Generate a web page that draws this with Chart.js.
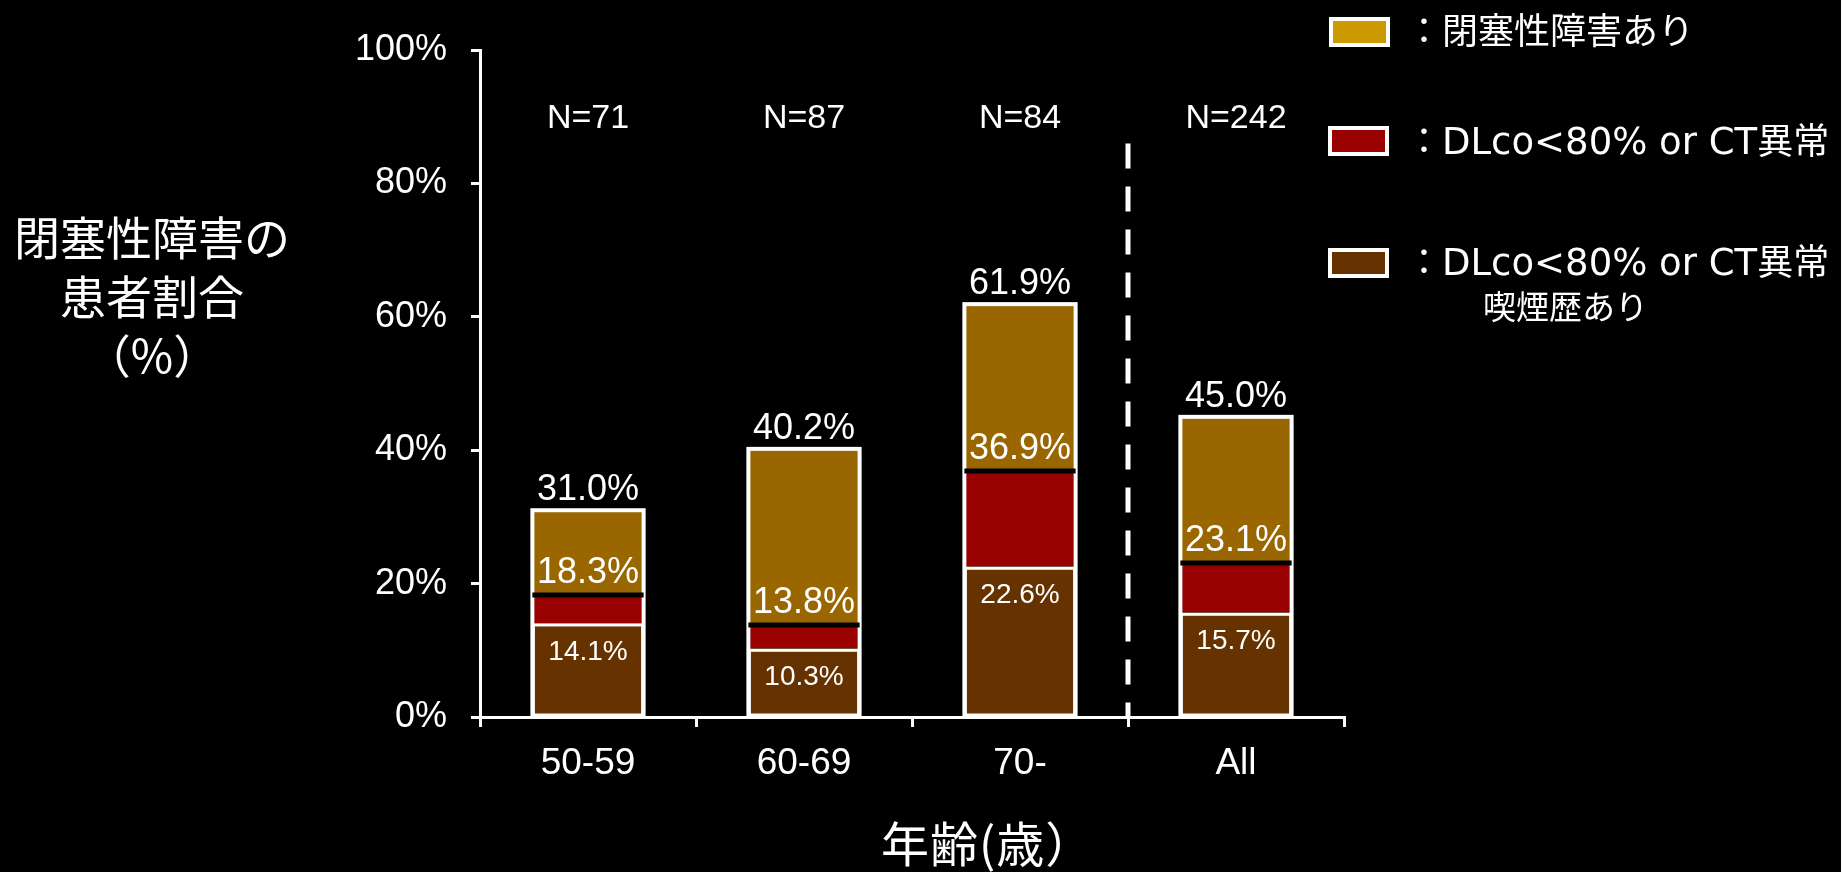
<!DOCTYPE html>
<html lang="ja">
<head>
<meta charset="utf-8">
<title>年齢別 閉塞性障害の患者割合</title>
<script src="https://cdn.jsdelivr.net/npm/chart.js@4.4.1/dist/chart.umd.min.js"></script>
<style>
  html, body { margin: 0; padding: 0; background: #000; overflow: hidden; }
  #wrap { position: relative; width: 1841px; height: 872px; }
  #myChart { position: absolute; left: 0; top: 0; }
  .jp { position: absolute; color: #fff; font-family: "Noto Sans CJK JP", "Noto Sans", sans-serif; white-space: nowrap; }
  #ytitle { left: 0; width: 304px; top: 206px; font-size: 46px; line-height: 59px; text-align: center; }
  #xtitle { left: 881px; top: 813px; font-size: 48px; line-height: 56px; letter-spacing: 1px; }
  .box { position: absolute; width: 53px; height: 22px; border: 4px solid #fff; }
  .leg { font-size: 37px; line-height: 44px; font-family: "DejaVu Sans", "Noto Sans CJK JP", sans-serif; }
  .leg .k { font-family: "Noto Sans CJK JP", sans-serif; font-size: 36px; }
</style>
</head>
<body>
<div id="wrap">
  <canvas id="myChart" width="1841" height="872"></canvas>

  <div id="ytitle" class="jp">閉塞性障害の<br>患者割合<br>（%）</div>
  <div id="xtitle" class="jp">年齢(歳）</div>

  <div class="box" style="left:1329px; top:17px; background:#cc9900"></div>
  <div class="jp leg" style="left:1406px; top:6px"><span class="k">：閉塞性障害あり</span></div>

  <div class="box" style="left:1328px; top:126px; background:#990000"></div>
  <div class="jp leg" style="left:1406px; top:116px"><span class="k">：</span>DLco&lt;80% or CT<span class="k">異常</span></div>

  <div class="box" style="left:1328px; top:248px; background:#663300"></div>
  <div class="jp leg" style="left:1406px; top:237px"><span class="k">：</span>DLco&lt;80% or CT<span class="k">異常</span></div>
  <div class="jp" style="left:1483px; top:285px; font-size:33px; line-height:40px">喫煙歴あり</div>
</div>

<script>
// age groups and sample sizes
var ageGroups = ['50-59', '60-69', '70-', 'All']
var nLabels = ['N=71', 'N=87', 'N=84', 'N=242']

// cumulative percentages as printed on the bars
var smokerPct = [14.1, 10.3, 22.6, 15.7]        // DLco<80% or CT異常 + 喫煙歴あり
var dlcoCtPct = [18.3, 13.8, 36.9, 23.1]        // DLco<80% or CT異常
var obstructivePct = [31.0, 40.2, 61.9, 45.0]   // 閉塞性障害あり (total)

var yTicks = [0, 20, 40, 60, 80, 100]

// stacked segments
var redPart = dlcoCtPct.map((v, i) => +(v - smokerPct[i]).toFixed(1))
var goldPart = obstructivePct.map((v, i) => +(v - dlcoCtPct[i]).toFixed(1))

var labelFont = '"Liberation Sans", Arial, sans-serif'

function fmt(v) {
    return v.toFixed(1) + '%'
}

const overlay = {
    id: 'overlay',
    afterDatasetsDraw(chart) {
        const ctx = chart.ctx
        const xs = chart.scales.x
        const ys = chart.scales.y
        const brown = chart.getDatasetMeta(0).data
        const red = chart.getDatasetMeta(1).data
        const gold = chart.getDatasetMeta(2).data

        ctx.save()
        ctx.textAlign = 'center'
        ctx.textBaseline = 'middle'

        brown.forEach((b, i) => {
            const r = red[i]
            const g = gold[i]
            const left = b.x - b.width / 2
            const w = b.width

            // white outline round the whole stack
            ctx.strokeStyle = '#fff'
            ctx.lineWidth = 4
            ctx.strokeRect(left, g.y, w, b.base - g.y)

            // white outline round the bottom segment
            ctx.lineWidth = 3
            ctx.strokeRect(left + 1, b.y + 2, w - 2, b.base - b.y - 2)

            // black rule on top of the red segment
            ctx.strokeStyle = '#000'
            ctx.lineWidth = 5
            ctx.beginPath()
            ctx.moveTo(left, r.y)
            ctx.lineTo(left + w, r.y)
            ctx.stroke()

            ctx.fillStyle = '#fff'
            ctx.font = '36px ' + labelFont
            ctx.fillText(fmt(obstructivePct[i]), b.x, g.y - 20)
            ctx.fillText(fmt(dlcoCtPct[i]), b.x, r.y - 22)
            ctx.font = '28px ' + labelFont
            ctx.fillText(fmt(smokerPct[i]), b.x, b.y + 29)
        })

        // N counts above each group
        ctx.font = '34px ' + labelFont
        ctx.fillStyle = '#fff'
        nLabels.forEach((t, i) => {
            ctx.fillText(t, xs.getPixelForValue(i), ys.getPixelForValue(89.7))
        })

        // dashed divider before the "All" column
        const dx = (xs.getPixelForValue(2) + xs.getPixelForValue(3)) / 2
        ctx.strokeStyle = '#fff'
        ctx.lineWidth = 5
        ctx.setLineDash([25, 18])
        ctx.beginPath()
        ctx.moveTo(dx, ys.getPixelForValue(86))
        ctx.lineTo(dx, ys.bottom)
        ctx.stroke()
        ctx.restore()
    }
}

Chart.defaults.color = '#fff'
Chart.defaults.font.family = labelFont

const ctx = document.getElementById('myChart')
const myChart = new Chart(ctx, {
    type: 'bar',
    data: {
        labels: ageGroups,
        datasets: [{
            label: 'DLco<80% or CT異常 喫煙歴あり',
            data: smokerPct,
            backgroundColor: '#663300',
            borderWidth: 0
        }, {
            label: 'DLco<80% or CT異常',
            data: redPart,
            backgroundColor: '#990000',
            borderWidth: 0
        }, {
            label: '閉塞性障害あり',
            data: goldPart,
            backgroundColor: '#996600',
            borderWidth: 0
        }]
    },
    options: {
        responsive: false,
        animation: false,
        devicePixelRatio: 1,
        categoryPercentage: 1,
        barPercentage: 0.515,
        layout: {
            padding: { left: 0, right: 497, top: 50, bottom: 0 }
        },
        plugins: {
            legend: { display: false },
            tooltip: { enabled: false }
        },
        scales: {
            x: {
                stacked: true,
                afterFit: (s) => { s.height = 155 },
                grid: {
                    offset: true,
                    drawOnChartArea: false,
                    drawTicks: true,
                    tickLength: 10,
                    color: '#fff',
                    lineWidth: 3
                },
                border: { color: '#fff', width: 3 },
                ticks: {
                    color: '#fff',
                    padding: 15,
                    font: { size: 37 }
                }
            },
            y: {
                stacked: true,
                min: 0,
                max: 100,
                afterFit: (s) => { s.width = 480 },
                afterBuildTicks: (s) => { s.ticks = yTicks.map(v => ({ value: v })) },
                grid: {
                    drawOnChartArea: false,
                    drawTicks: true,
                    tickLength: 9,
                    color: '#fff',
                    lineWidth: 3
                },
                border: { color: '#fff', width: 3 },
                ticks: {
                    color: '#fff',
                    padding: 24,
                    font: { size: 36 },
                    callback: (v) => v + '%'
                }
            }
        }
    },
    plugins: [overlay]
});
</script>
</body>
</html>
